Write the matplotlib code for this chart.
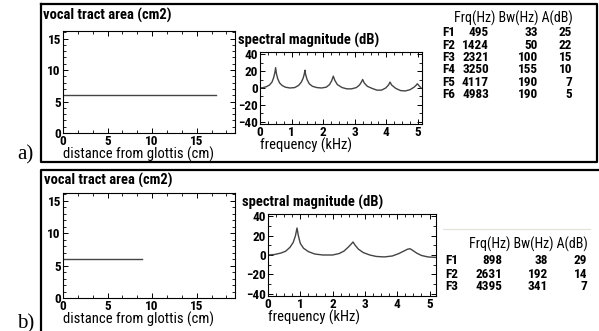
import matplotlib
matplotlib.use('Agg')
import matplotlib.pyplot as plt
from matplotlib.ticker import MultipleLocator, AutoMinorLocator
from matplotlib.lines import Line2D

# 字体设置
plt.rcParams['font.family'] = ['Roboto Condensed', 'Liberation Sans', 'DejaVu Sans']
plt.rcParams['font.weight'] = 'bold'

# ---- 数据 ----
# 声道面积 (a: 均匀管, b: 半长管)
tract_x_a = [0, 17.2]
tract_area_a = [6, 6]
tract_x_b = [0, 8.9]
tract_area_b = [6, 6]

# 频谱 a (kHz, dB)
freq_a = [0.0, 0.1, 0.2, 0.3, 0.38, 0.43, 0.47, 0.495, 0.52, 0.56, 0.62, 0.7, 0.8,
          0.95, 1.1, 1.22, 1.31, 1.37, 1.405, 1.424, 1.445, 1.49, 1.56, 1.66, 1.8,
          1.95, 2.1, 2.2, 2.27, 2.321, 2.37, 2.45, 2.6, 2.75, 2.9, 3.05, 3.15,
          3.21, 3.25, 3.3, 3.4, 3.55, 3.7, 3.85, 3.98, 4.07, 4.117, 4.17, 4.3,
          4.45, 4.6, 4.75, 4.88, 4.95, 4.983, 5.03, 5.1]
db_a = [0, 0.5, 1.5, 3.5, 7, 12, 18, 24, 17, 11, 6, 3, 1,
        0, 0.5, 3, 7, 12, 17, 21, 16, 10, 5, 2, 0.5,
        0, 1, 4, 8.5, 14, 9, 4, 0.5, -1, -1, 0.5, 3.5,
        7, 10, 6, 2, -0.5, -2.5, -2.5, 0, 3.5, 7, 3.5, -0.5,
        -3, -3.5, -2, 1, 3.5, 5, 3, 0]

# 频谱 b (kHz, dB)
freq_b = [0.0, 0.2, 0.4, 0.55, 0.68, 0.78, 0.85, 0.898, 0.94, 1.0, 1.1, 1.25,
          1.45, 1.7, 2.0, 2.2, 2.35, 2.48, 2.58, 2.631, 2.7, 2.8, 2.95, 3.15,
          3.35, 3.6, 3.85, 4.05, 4.2, 4.32, 4.395, 4.47, 4.6, 4.75, 4.95, 5.2]
db_b = [0, 0.5, 2, 4, 8, 13, 20, 28, 20, 12, 7, 3.5,
        1, 0, 0, 1.5, 4, 8, 11.5, 13.5, 10, 6, 2.5, 0,
        -1.5, -2, -1, 1.5, 4, 6, 6.5, 5, 2, -0.5, -2, -2.5]

# 共振峰表
formants_a = ['F1', 'F2', 'F3', 'F4', 'F5', 'F6']
frq_a = [495, 1424, 2321, 3250, 4117, 4983]
bw_a = [33, 50, 100, 155, 190, 190]
amp_a = [25, 22, 15, 10, 7, 5]

formants_b = ['F1', 'F2', 'F3']
frq_b = [898, 2631, 4395]
bw_b = [38, 192, 341]
amp_b = [29, 14, 7]

W, H = 599, 331
fig = plt.figure(figsize=(W / 100, H / 100), dpi=100)


def px_axes(x0, y0, x1, y1):
    return fig.add_axes([x0 / W, 1 - y1 / H, (x1 - x0) / W, (y1 - y0) / H])


def px_text(x, y, s, **kw):
    fig.text(x / W, 1 - y / H, s, **kw)


def px_line(xs, ys, color='black', lw=1.6):
    fig.add_artist(Line2D([x / W for x in xs], [1 - y / H for y in ys],
                          transform=fig.transFigure, color=color, lw=lw))


def style_axes(ax):
    for sp in ax.spines.values():
        sp.set_linewidth(0.8)
    ax.tick_params(which='both', direction='in', top=True, right=True,
                   labelsize=9.5, pad=1.5, colors='black')
    ax.tick_params(which='major', length=3.5, width=0.7)
    ax.tick_params(which='minor', length=2, width=0.6)


def tract_plot(x0, y0, x1, y1, xs, ys):
    ax = px_axes(x0, y0, x1, y1)
    ax.plot(xs, ys, color='#444444', lw=1.0)
    ax.set_xlim(0, 19.3)
    ax.set_ylim(0, 16.2)
    ax.xaxis.set_major_locator(MultipleLocator(5))
    ax.xaxis.set_minor_locator(AutoMinorLocator(3))
    ax.yaxis.set_major_locator(MultipleLocator(5))
    ax.yaxis.set_minor_locator(AutoMinorLocator(5))
    style_axes(ax)
    ax.set_xlabel('distance from glottis (cm)', fontsize=10.5, labelpad=-1, loc='left')
    return ax


def spec_plot(x0, y0, x1, y1, xs, ys, xmax):
    ax = px_axes(x0, y0, x1, y1)
    ax.plot(xs, ys, color='#444444', lw=1.0)
    ax.set_xlim(0, xmax)
    ax.set_ylim(-42.5, 42.5)
    ax.xaxis.set_major_locator(MultipleLocator(1))
    ax.xaxis.set_minor_locator(AutoMinorLocator(4))
    ax.yaxis.set_major_locator(MultipleLocator(20))
    ax.yaxis.set_minor_locator(AutoMinorLocator(2))
    style_axes(ax)
    ax.set_xlabel('frequency (kHz)', fontsize=10.5, labelpad=-1, loc='left')
    return ax


def formant_table(x_f, x_frq, x_bw, x_amp, y_head, y_row0, dy, names, frq, bw, amp):
    px_text(x_amp + 1, y_head, 'Frq(Hz) Bw(Hz) A(dB)', fontsize=10,
            fontweight='normal', ha='right', va='center')
    for i, name in enumerate(names):
        y = y_row0 + i * dy
        px_text(x_f, y, name, fontsize=9.5, ha='left', va='center')
        px_text(x_frq, y, str(frq[i]), fontsize=9.5, ha='right', va='center')
        px_text(x_bw, y, str(bw[i]), fontsize=9.5, ha='right', va='center')
        px_text(x_amp, y, str(amp[i]), fontsize=9.5, ha='right', va='center')


# ---- 面板 a ----
px_line([41, 597, 597, 41, 41], [4, 4, 162, 162, 4])
px_text(43, 15, 'vocal tract area (cm2)', fontsize=10.5, va='center')
tract_plot(63, 31, 235, 133, tract_x_a, tract_area_a)
px_text(238, 40, 'spectral magnitude (dB)', fontsize=10.5, va='center')
spec_plot(260, 52, 422, 124, freq_a, db_a, 5.13)
formant_table(442, 489, 538, 572, 18, 33, 12.3, formants_a, frq_a, bw_a, amp_a)
px_text(34, 155, 'a)', fontsize=15, fontweight='normal', family='Liberation Serif',
        ha='right', va='center')

# ---- 面板 b ----
px_line([600, 41, 41], [170, 170, 335])
px_text(44, 180, 'vocal tract area (cm2)', fontsize=10.5, va='center')
tract_plot(63, 193, 235, 298, tract_x_b, tract_area_b)
px_text(242, 202, 'spectral magnitude (dB)', fontsize=10.5, va='center')
spec_plot(268, 214, 436, 296, freq_b, db_b, 5.2)
px_line([443, 590], [229, 229], color='#e2e2d8', lw=0.8)
formant_table(445, 502, 548, 587, 244, 261, 13, formants_b, frq_b, bw_b, amp_b)
px_text(34, 324, 'b)', fontsize=15, fontweight='normal', family='Liberation Serif',
        ha='right', va='center')

fig.savefig('out.png', dpi=100)
